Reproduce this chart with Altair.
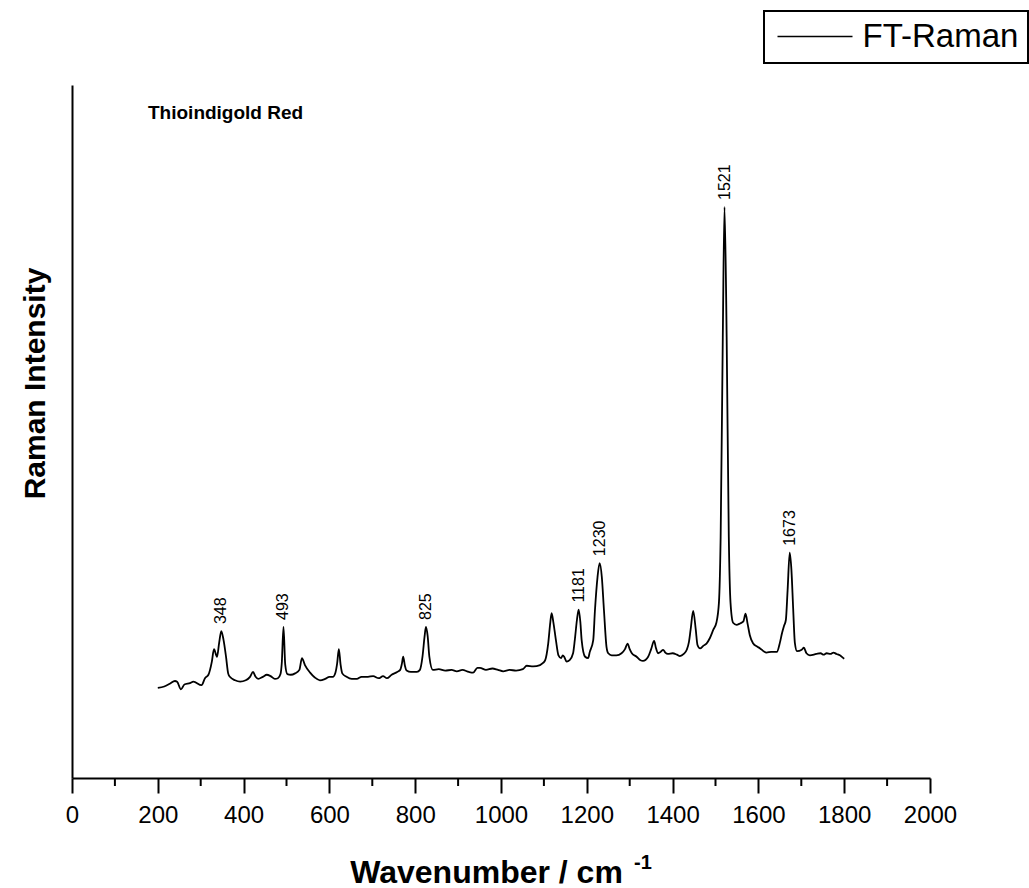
import altair as alt
import pandas as pd

# FT-Raman spectrum of Thioindigold Red (wavenumber in cm-1, intensity in arbitrary units)
wavenumber = [
    200, 215, 228, 240, 245, 254, 262, 275, 283, 302, 310, 318, 326, 331, 338, 343,
    348, 353, 359, 364, 368, 380, 392, 405, 415, 422, 428, 434, 445, 454, 463, 473,
    480, 486, 489, 493, 497, 502, 510, 520, 530, 536, 543, 555, 566, 578, 590, 600,
    608, 614, 618, 622, 626, 630, 640, 652, 664, 675, 690, 702, 715, 725, 734, 745,
    758, 765, 769, 772, 776, 780, 790, 804, 811, 817, 822, 825, 829, 833, 841, 855,
    870, 885, 897, 910, 925, 935, 945, 951, 965, 980, 993, 1005, 1020, 1035, 1051, 1060,
    1075, 1091, 1098, 1103, 1110, 1115, 1118, 1122, 1128, 1134, 1140, 1144, 1148, 1153, 1160, 1168,
    1172, 1177, 1181, 1185, 1188, 1196, 1203, 1207, 1215, 1219, 1225, 1230, 1235, 1240, 1246, 1250,
    1258, 1269, 1281, 1289, 1295, 1300, 1305, 1316, 1325, 1331, 1343, 1350, 1357, 1361, 1366, 1372,
    1378, 1383, 1389, 1400, 1410, 1417, 1426, 1433, 1438, 1442, 1448, 1454, 1458, 1464, 1472, 1479,
    1487, 1495, 1502, 1508, 1512, 1517, 1521, 1526, 1531, 1535, 1541, 1549, 1557, 1565, 1570, 1575,
    1580, 1588, 1596, 1604, 1612, 1619, 1630, 1643, 1650, 1655, 1660, 1664, 1668, 1673, 1677, 1681,
    1685, 1690, 1701, 1706, 1712, 1720, 1735, 1745, 1752, 1759, 1768, 1775, 1782, 1790, 1798, 1800,
]
intensity = [
    13.0, 13.2, 13.6, 14.0, 13.9, 12.8, 13.5, 13.7, 13.9, 13.4, 14.4, 14.9, 16.8, 18.6, 17.5, 19.5,
    21.2, 20.0, 17.5, 15.1, 14.6, 14.1, 13.9, 14.1, 14.6, 15.3, 14.6, 14.3, 14.6, 14.9, 14.7, 14.3,
    14.4, 15.0, 16.6, 21.8, 16.4, 15.0, 14.9, 15.1, 15.6, 17.3, 16.3, 15.2, 14.5, 14.1, 14.3, 14.6,
    14.6, 15.2, 16.5, 18.6, 16.4, 15.1, 14.6, 14.3, 14.3, 14.6, 14.6, 14.7, 14.4, 14.7, 14.4, 14.9,
    15.3, 15.6, 16.5, 17.5, 16.2, 15.5, 15.3, 15.3, 15.6, 17.5, 20.5, 21.8, 20.5, 17.5, 15.6, 15.7,
    15.5, 15.6, 15.4, 15.6, 15.3, 15.2, 15.9, 15.9, 15.6, 15.8, 15.6, 15.4, 15.6, 15.5, 15.7, 16.2,
    16.1, 16.3, 16.6, 17.0, 19.4, 22.5, 23.8, 22.5, 19.9, 17.7, 17.3, 17.7, 17.4, 16.8, 17.0, 18.0,
    19.9, 22.8, 24.3, 22.5, 19.9, 17.5, 17.3, 18.2, 19.9, 24.2, 29.0, 31.0, 29.0, 24.2, 18.9, 18.0,
    17.7, 17.7, 18.0, 18.6, 19.4, 18.6, 18.0, 17.5, 17.0, 16.9, 17.5, 18.6, 19.8, 18.8, 18.0, 18.2,
    18.5, 18.1, 17.9, 18.0, 17.8, 17.6, 17.9, 18.5, 19.6, 21.4, 24.1, 21.4, 19.2, 18.7, 19.1, 19.4,
    20.2, 21.4, 22.4, 25.3, 34.8, 63.6, 82.4, 63.6, 34.8, 25.3, 22.4, 22.1, 22.3, 22.6, 23.7, 22.2,
    20.6, 19.4, 19.0, 18.7, 18.3, 18.1, 18.2, 18.2, 19.5, 20.9, 22.0, 22.8, 27.0, 32.5, 30.0, 24.5,
    19.5, 18.3, 18.5, 18.8, 18.0, 17.7, 17.9, 18.0, 17.8, 18.0, 17.9, 18.1, 17.9, 17.7, 17.3, 17.2,
]

peak_positions = [348, 493, 825, 1181, 1230, 1521, 1673]
x_ticks = list(range(0, 2001, 200))
x_minor_ticks = list(range(100, 2000, 200))
series_name = "FT-Raman"
sample_name = "Thioindigold Red"
x_title = "Wavenumber / cm"
x_title_exponent = "-1"
y_title = "Raman Intensity"

FONT = "Liberation Sans"

spectrum = pd.DataFrame(
    {"wavenumber": wavenumber, "intensity": intensity, "series": series_name}
)
peaks = spectrum[spectrum["wavenumber"].isin(peak_positions)].copy()
peaks["label"] = peaks["wavenumber"].astype(str)

x_enc = alt.X(
    "wavenumber:Q",
    scale=alt.Scale(domain=[0, 2000], nice=False, zero=False),
    axis=alt.Axis(
        values=x_ticks,
        format="d",
        grid=False,
        tickSize=15,
        tickWidth=2,
        domainWidth=2,
        labelFontSize=24,
        labelPadding=10,
        labelFlush=False,
        labelOverlap=False,
        title=x_title,
        titleFontSize=32,
        titleFontWeight="bold",
        titleX=414,
        titleY=104,
        titleAlign="center",
        titleBaseline="alphabetic",
    ),
)
y_enc = alt.Y(
    "intensity:Q",
    scale=alt.Scale(domain=[0, 100], nice=False),
    axis=alt.Axis(
        ticks=False,
        labels=False,
        grid=False,
        domainWidth=2,
        title=y_title,
        titleFontSize=30,
        titleFontWeight="bold",
        titleX=-28,
        titleY=298,
        titleAngle=270,
        titleAlign="center",
        titleBaseline="alphabetic",
    ),
)

line = alt.Chart(spectrum).mark_line(strokeWidth=1.8, interpolate="monotone").encode(
    x=x_enc,
    y=y_enc,
    color=alt.Color(
        "series:N",
        scale=alt.Scale(domain=[series_name], range=["black"]),
        legend=alt.Legend(
            title=None,
            orient="none",
            legendX=692,
            legendY=-74,
            strokeColor="black",
            fillColor="white",
            padding=9,
            labelFont=FONT,
            labelFontSize=33,
            labelColor="black",
            labelOffset=31,
            symbolType="M-2.5,0H2.5",
            symbolSize=900,
            symbolStrokeWidth=1.5,
            symbolOffset=25.5,
        ),
    ),
)

# minor ticks halfway between the labelled ones
minor_ticks = alt.Chart(pd.DataFrame({"wavenumber": x_minor_ticks})).mark_rule(
    color="black", strokeWidth=2
).encode(x="wavenumber:Q", y=alt.value(693), y2=alt.value(701))

peak_labels = alt.Chart(peaks).mark_text(
    angle=270, align="left", baseline="middle", dx=7, fontSize=16, font=FONT, color="black"
).encode(x="wavenumber:Q", y="intensity:Q", text="label:N")

sample_label = alt.Chart(pd.DataFrame({"name": [sample_name]})).mark_text(
    align="left", baseline="alphabetic", fontSize=19, fontWeight="bold", font=FONT, color="black"
).encode(x=alt.value(76), y=alt.value(34), text="name:N")

exponent = alt.Chart(pd.DataFrame({"exp": [x_title_exponent]})).mark_text(
    align="left", baseline="alphabetic", fontSize=20, fontWeight="bold", font=FONT, color="black"
).encode(x=alt.value(562), y=alt.value(784), text="exp:N")

chart = (
    alt.layer(line, minor_ticks, peak_labels, sample_label, exponent)
    .properties(
        width=858,
        height=693,
        autosize=alt.AutoSizeParams(type="none"),
        padding={"left": 72, "top": 85, "right": 99, "bottom": 110},
        background="white",
    )
    .configure(font=FONT)
    .configure_view(stroke=None)
    .configure_axis(
        labelColor="black",
        titleColor="black",
        domainColor="black",
        tickColor="black",
        labelFont=FONT,
        titleFont=FONT,
    )
    .configure_legend(strokeWidth=2)
)

chart.save("out.html", embed_options={"renderer": "svg", "actions": False})
